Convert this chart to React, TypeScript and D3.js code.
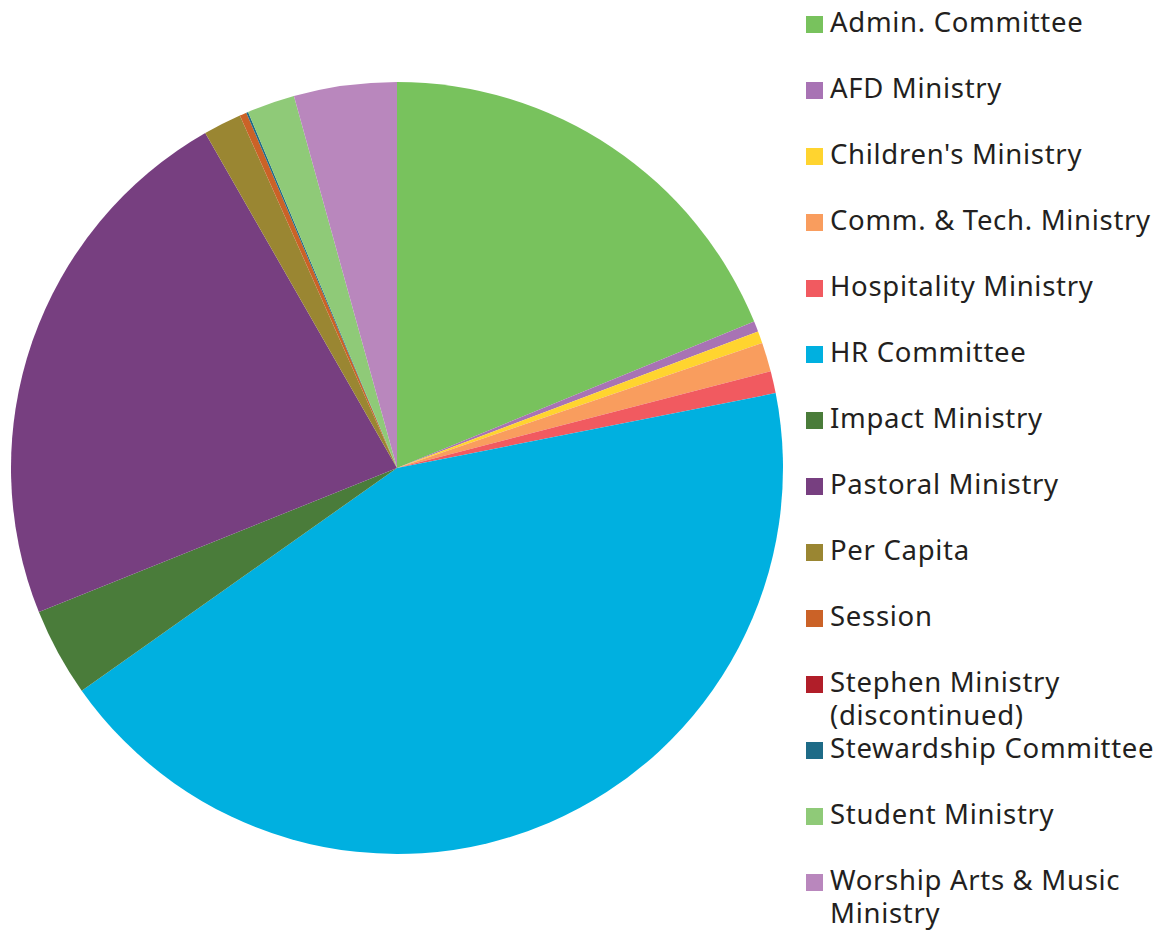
import React from "react";
import * as d3 from "d3";

const categories = [
  "Admin. Committee",
  "AFD Ministry",
  "Children's Ministry",
  "Comm. & Tech. Ministry",
  "Hospitality Ministry",
  "HR Committee",
  "Impact Ministry",
  "Pastoral Ministry",
  "Per Capita",
  "Session",
  "Stephen Ministry (discontinued)",
  "Stewardship Committee",
  "Student Ministry",
  "Worship Arts & Music Ministry",
];

const values = [18.8, 0.44, 0.5, 1.22, 0.92, 43.3, 3.7, 22.8, 1.6, 0.29, 0, 0.08, 2.0, 4.3];

const colors = [
  "#78C25D",
  "#A873B4",
  "#FFD42F",
  "#F99D5E",
  "#F15A60",
  "#00B0E0",
  "#4A7C3A",
  "#773F80",
  "#9A8632",
  "#CB6227",
  "#B11E29",
  "#1E6B87",
  "#8FCA78",
  "#B987BD",
];

const legendLines = [
  ["Admin. Committee"],
  ["AFD Ministry"],
  ["Children's Ministry"],
  ["Comm. & Tech. Ministry"],
  ["Hospitality Ministry"],
  ["HR Committee"],
  ["Impact Ministry"],
  ["Pastoral Ministry"],
  ["Per Capita"],
  ["Session"],
  ["Stephen Ministry", "(discontinued)"],
  ["Stewardship Committee"],
  ["Student Ministry"],
  ["Worship Arts & Music", "Ministry"],
];

export default function App() {
  const W = 1166;
  const H = 931;
  const cx = 397;
  const cy = 468;
  const r = 386;
  const data = categories.map((c, i) => ({ c, v: values[i], color: colors[i] }));
  const pie = d3.pie<any>().sort(null).value((d) => d.v);
  const arc = d3.arc<any>().innerRadius(0).outerRadius(r);
  const arcs = pie(data);
  const legendY = d3.scaleLinear().domain([0, 1]).range([22, 88]);

  return (
    <svg width={W} height={H} style={{ position: "absolute", left: 0, top: 0, background: "#fff" }}>
      <g transform={`translate(${cx},${cy})`}>
        {arcs.map((a, i) => (
          <path key={i} d={arc(a) || ""} fill={a.data.color} />
        ))}
      </g>
      <g fontFamily="'Noto Sans', 'Open Sans', sans-serif" fontSize={27.5} letterSpacing={0.7} fill="#231F20">
        {categories.map((c, i) => {
          const y = legendY(i);
          return (
            <g key={c}>
              <rect x={806} y={y - 6} width={17} height={17} fill={colors[i]} />
              <text x={830} y={y + 10}>
                {legendLines[i].map((ln, j) => (
                  <tspan key={j} x={830} dy={j === 0 ? 0 : 33}>
                    {ln}
                  </tspan>
                ))}
              </text>
            </g>
          );
        })}
      </g>
    </svg>
  );
}
